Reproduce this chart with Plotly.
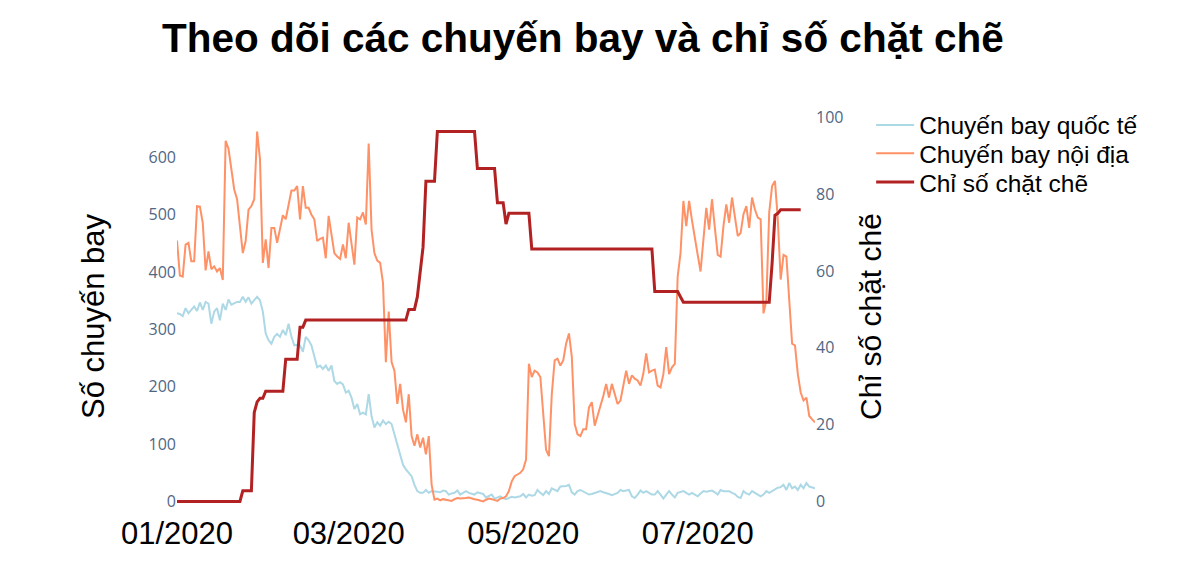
import pandas as pd
import plotly.graph_objects as go

# Daily values, starting 01/01/2020
start_date = "2020-01-01"

intl_flights = [
    328, 327, 323, 337, 328, 334, 340, 332, 347, 334,
    348, 345, 310, 331, 337, 316, 345, 334, 352, 343,
    345, 348, 348, 357, 348, 356, 345, 351, 357, 351,
    331, 293, 281, 275, 287, 292, 287, 299, 290, 310,
    287, 272, 273, 272, 261, 287, 281, 272, 255, 234,
    237, 231, 237, 228, 237, 210, 205, 208, 204, 190,
    193, 181, 161, 170, 152, 155, 152, 187, 149, 129,
    138, 132, 141, 135, 139, 135, 117, 100, 82, 64,
    56, 50, 44, 29, 18, 15, 15, 20, 15, 18,
    18, 17, 16, 19, 18, 12, 14, 15, 19, 12,
    15, 18, 15, 14, 12, 16, 14, 13, 7, 10,
    12, 5, 7, 9, 6, 4, 6, 8, 7, 8,
    9, 13, 7, 12, 10, 11, 20, 15, 11, 18,
    13, 23, 20, 18, 26, 26, 27, 29, 16, 12,
    18, 20, 17, 15, 12, 13, 15, 16, 18, 16,
    15, 13, 11, 13, 15, 20, 18, 19, 20, 9,
    6, 12, 19, 15, 18, 15, 12, 12, 18, 12,
    5, 12, 18, 12, 7, 15, 16, 18, 15, 12,
    15, 12, 9, 14, 18, 17, 18, 19, 16, 12,
    20, 18, 18, 18, 15, 13, 8, 6, 18, 14,
    12, 18, 15, 12, 9, 12, 18, 15, 18, 20,
    24, 25, 29, 20, 32, 23, 26, 20, 29, 23,
    32, 26, 24, 23,
]

dom_flights = [
    455, 394, 392, 448, 451, 419, 419, 515, 514, 486,
    403, 436, 405, 410, 401, 407, 386, 629, 615, 575,
    544, 527, 480, 433, 454, 509, 515, 527, 645, 597,
    416, 457, 407, 477, 477, 451, 475, 499, 492, 520,
    542, 542, 550, 492, 550, 512, 512, 500, 492, 454,
    458, 460, 424, 498, 465, 433, 427, 423, 448, 424,
    486, 445, 413, 495, 492, 504, 483, 624, 474, 433,
    420, 416, 381, 243, 331, 243, 228, 170, 205, 160,
    138, 187, 114, 97, 117, 94, 111, 82, 114, 29,
    3, 5, 2, 4, 3, 2, 1, 4, 6, 5,
    5, 6, 7, 5, 4, 3, 2, 0, 3, 5,
    4, 2, 1, 5, 6, 9, 18, 35, 44, 47,
    50, 56, 73, 240, 217, 228, 225, 217, 150, 90,
    79, 187, 246, 249, 237, 246, 275, 293, 252, 135,
    117, 114, 126, 126, 164, 173, 132, 150, 164, 184,
    205, 181, 205, 187, 170, 176, 199, 228, 205, 220,
    214, 211, 202, 223, 258, 225, 228, 230, 202, 199,
    222, 269, 222, 234, 240, 392, 433, 524, 480, 524,
    490, 463, 430, 401, 463, 512, 474, 527, 477, 430,
    427, 480, 518, 486, 530, 492, 463, 468, 501, 515,
    477, 530, 509, 495, 492, 328, 351, 504, 550, 559,
    492, 387, 430, 427, 357, 275, 272, 222, 190, 176,
    181, 149, 143, 138,
]

stringency = (
    [0] * 23 + [2.78] * 4 + [23.15, 25.93] + [26.85] * 2 + [28.7] * 7
    + [37.04] * 5 + [45.37] * 2 + [47.22] * 36 + [50.0] * 3
    + [53.24, 60.19, 66.2] + [83.33] * 4 + [96.3] * 14 + [86.67] * 7
    + [77.78] * 3 + [72.22] + [75.0] * 8 + [65.74] * 43 + [54.63] * 9
    + [53.24] + [51.85] * 31 + [62.0, 74.5, 75.0] + [75.93] * 8
)

flight_dates = pd.date_range(start_date, periods=len(dom_flights), freq="D")
index_dates = pd.date_range(start_date, periods=len(stringency), freq="D")

label_font = dict(family="Liberation Sans, Arial, sans-serif", color="black")
tick_color = "#506784"

fig = go.Figure()
fig.add_trace(go.Scatter(x=flight_dates, y=intl_flights, mode="lines",
                         name="Chuyến bay quốc tế", legend="legend",
                         showlegend=True,
                         line=dict(color="lightblue", width=2)))
fig.add_trace(go.Scatter(x=flight_dates, y=dom_flights, mode="lines",
                         name="Chuyến bay nội địa", legend="legend2",
                         showlegend=True,
                         line=dict(color="#ff9166", width=2)))
fig.add_trace(go.Scatter(x=index_dates, y=stringency, mode="lines",
                         name="Chỉ số chặt chẽ", yaxis="y2", legend="legend3",
                         showlegend=True,
                         line=dict(color="firebrick", width=3)))

# one legend per entry so the rows can sit closer than the font allows
legend_style = dict(x=1.088, xanchor="left", yanchor="middle", itemwidth=38,
                    font=dict(size=24.5, **label_font), bgcolor="rgba(0,0,0,0)")

fig.update_layout(
    template="plotly_white",
    width=1200, height=574,
    showlegend=True,
    margin=dict(l=169, r=393, t=103, b=60),
    title=dict(text="<b>Theo dõi các chuyến bay và chỉ số chặt chẽ</b>",
               x=0.479, xanchor="center", y=0.948, yanchor="middle",
               font=dict(size=40.5, **label_font)),
    xaxis=dict(tickformat="%m/%Y", dtick="M2", tick0=start_date,
               showgrid=False, zeroline=False, automargin=False,
               ticklabelstandoff=-10,
               tickfont=dict(size=31, **label_font)),
    yaxis=dict(title=dict(text="Số chuyến bay", font=dict(size=31, **label_font),
                          standoff=34),
               showgrid=False, zeroline=False, automargin=False,
               tickfont=dict(size=16, color=tick_color)),
    yaxis2=dict(title=dict(text="Chỉ số chặt chẽ", font=dict(size=30, **label_font),
                           standoff=17),
                overlaying="y", side="right",
                showgrid=False, zeroline=False, automargin=False,
                tickfont=dict(size=16, color=tick_color)),
    legend=dict(y=0.966, **legend_style),
    legend2=dict(y=0.897, **legend_style),
    legend3=dict(y=0.827, **legend_style),
)

fig.write_html("out.html")
